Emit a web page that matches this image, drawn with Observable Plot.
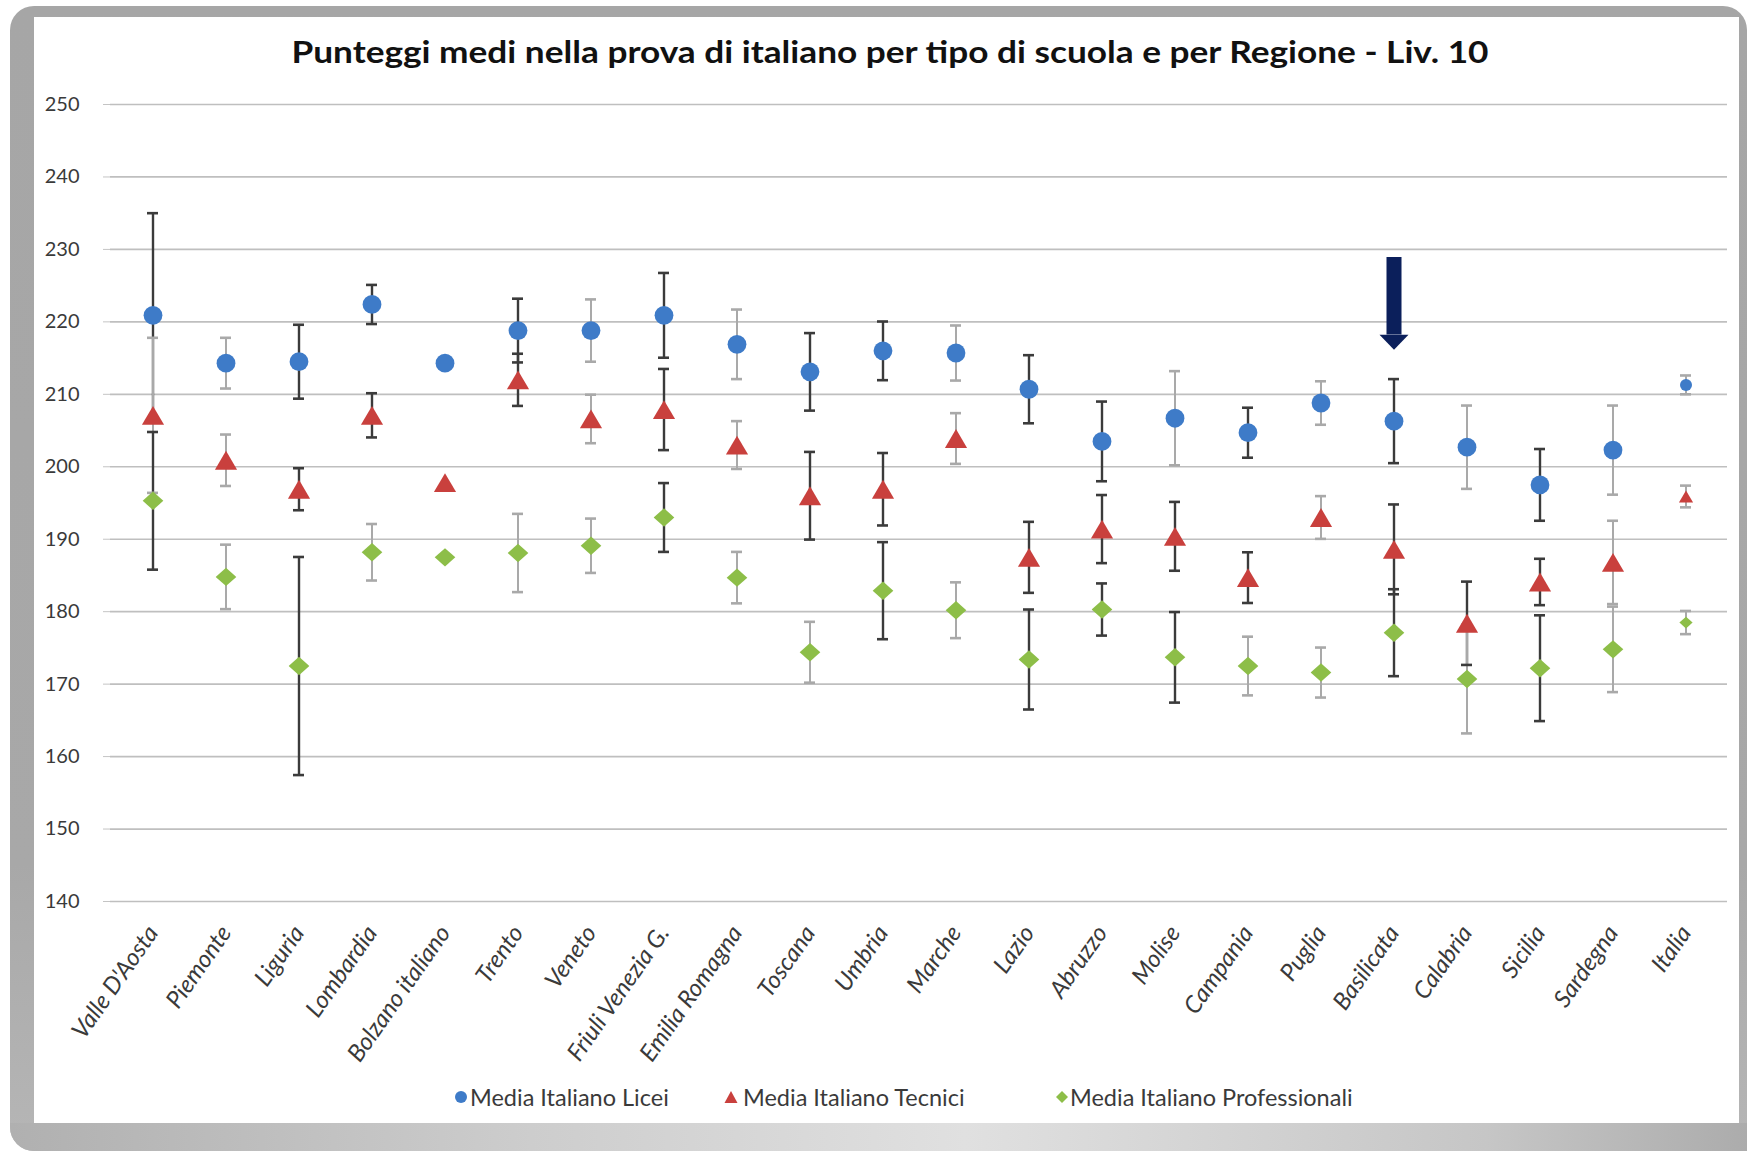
<!DOCTYPE html>
<html>
<head>
<meta charset="utf-8">
<script src="https://cdn.jsdelivr.net/npm/d3@7"></script>
<script src="https://cdn.jsdelivr.net/npm/@observablehq/plot@0.6"></script>
<style>
  html, body { margin: 0; padding: 0; width: 1747px; height: 1151px; overflow: hidden; background: #fff; font-family: Lato, "Open Sans", sans-serif; }
  #frame { position: absolute; left: 10px; top: 6px; width: 1737px; height: 1145px; border-radius: 24px 24px 0 24px; overflow: hidden;
           background: linear-gradient(to bottom, #a6a6a6 0%, #a8a8a8 75%, #b6b6b6 100%); }
  #bottomstrip { position: absolute; left: 0; right: 0; bottom: 0; height: 28px;
           background: linear-gradient(to right, #b0b0b0 0%, #cdcdcd 30%, #e0e0e0 55%, #c6c6c6 85%, #acacac 100%); }
  #inner { position: absolute; left: 34px; top: 17px; width: 1705px; height: 1106px; background: #fff; }
  #chart { position: absolute; left: 0; top: 0; }
  #title { position: absolute; left: 0; top: 0; }
  .leg { position: absolute; top: 1081px; height: 32px; font-size: 23.5px; color: #3a3a3a; white-space: nowrap; line-height: 32px; }
  .legm { position: absolute; top: 1090px; }
</style>
</head>
<body>
<div id="frame"><div id="bottomstrip"></div></div>
<div id="inner"></div>
<div id="chart"></div>
<svg id="title" width="1747" height="100">
  <text x="890" y="63" text-anchor="middle" font-family="Lato, sans-serif" font-weight="700" font-size="30" fill="#111" textLength="1197" lengthAdjust="spacingAndGlyphs">Punteggi medi nella prova di italiano per tipo di scuola e per Regione - Liv. 10</text>
</svg>
<div id="legend"></div>
<script>
// ---- data ----
const regions = ["Valle D'Aosta", "Piemonte", "Liguria", "Lombardia", "Bolzano italiano", "Trento", "Veneto",
  "Friuli Venezia G.", "Emilia Romagna", "Toscana", "Umbria", "Marche", "Lazio", "Abruzzo", "Molise",
  "Campania", "Puglia", "Basilicata", "Calabria", "Sicilia", "Sardegna", "Italia"];

const licei      = [220.9, 214.3, 214.5, 222.4, 214.3, 218.8, 218.8, 220.9, 216.9, 213.1, 216.0, 215.7, 210.7, 203.5, 206.7, 204.7, 208.8, 206.3, 202.7, 197.5, 202.3, 211.3];
const liceiErr   = [14.1, 3.5, 5.1, 2.7, null, 4.4, 4.3, 5.85, 4.8, 5.35, 4.05, 3.8, 4.7, 5.5, 6.5, 3.45, 3.0, 5.8, 5.75, 4.95, 6.15, 1.3];
const liceiDark  = [1, 0, 1, 1, 0, 1, 0, 1, 0, 1, 1, 0, 1, 1, 0, 1, 0, 1, 0, 1, 0, 0];

const tecnici     = [207.1, 200.9, 196.9, 207.1, 197.8, 212.0, 206.6, 207.9, 203.0, 196.0, 196.9, 203.9, 187.5, 191.4, 190.4, 184.7, 193.0, 188.6, 178.4, 184.1, 186.8, 195.9];
const tecniciErr  = [10.7, 3.55, 2.9, 3.05, null, 3.6, 3.35, 5.6, 3.3, 6.05, 5.0, 3.5, 4.9, 4.7, 4.75, 3.5, 2.95, 6.2, 5.75, 3.2, 5.75, 1.5];
const tecniciDark = [0, 0, 1, 1, 0, 1, 0, 1, 0, 1, 1, 0, 1, 1, 1, 1, 0, 1, 1, 1, 0, 0];

const professionali     = [195.3, 184.8, 172.5, 188.2, 187.5, 188.1, 189.1, 193.0, 184.7, 174.4, 182.9, 180.2, 173.4, 180.3, 173.7, 172.5, 171.6, 177.1, 170.7, 172.2, 174.8, 178.5];
const professionaliErr  = [9.5, 4.45, 15.05, 3.9, null, 5.4, 3.75, 4.75, 3.55, 4.2, 6.7, 3.85, 6.9, 3.6, 6.25, 4.05, 3.45, 6.0, 7.5, 7.3, 5.9, 1.6];
const professionaliDark = [1, 0, 1, 0, 0, 0, 0, 1, 0, 0, 1, 0, 1, 1, 1, 0, 0, 1, 0, 1, 0, 0];

const seriesNames  = ["Media Italiano Licei", "Media Italiano Tecnici", "Media Italiano Professionali"];
const seriesColors = ["#3E7BC8", "#C9403D", "#8DBE48"];
const yTicks = [140, 150, 160, 170, 180, 190, 200, 210, 220, 230, 240, 250];

// annotation arrow (pointing at Basilicata)
const arrowRegion = "Basilicata";
const arrowTop = 228.9, arrowShaftEnd = 218.2, arrowHeadAt = 217.2;

// ---- build table ----
const seriesData = [[licei, liceiErr, liceiDark], [tecnici, tecniciErr, tecniciDark], [professionali, professionaliErr, professionaliDark]];
const rows = [];
seriesData.forEach(([vals, errs, dark], s) => regions.forEach((r, i) =>
  rows.push({region: r, series: s, value: vals[i], err: errs[i], dark: dark[i]})));
const bars = rows.filter(d => d.err != null);

// ---- symbols ----
const triSym = {draw(ctx, size) { const r = Math.sqrt(size / Math.PI); const w = 1.18 * r, h = r;
  ctx.moveTo(0, -h); ctx.lineTo(w, h); ctx.lineTo(-w, h); ctx.closePath(); }};
const diaSym = {draw(ctx, size) { const r = Math.sqrt(size / Math.PI); const w = 1.1 * r, h = 0.98 * r;
  ctx.moveTo(0, -h); ctx.lineTo(w, 0); ctx.lineTo(0, h); ctx.lineTo(-w, 0); ctx.closePath(); }};
const headSym = {draw(ctx, size) { ctx.moveTo(-14.5, -7.5); ctx.lineTo(14.5, -7.5); ctx.lineTo(0, 7.5); ctx.closePath(); }};
const symbols = ["circle", triSym, diaSym];
const barColor = d => d.dark ? "#3b3b3b" : "#a9a9a9";
const sizeOf = d => d.region === "Italia" ? 6 : 9.4;

const chart = Plot.plot({
  width: 1747, height: 1151,
  marginLeft: 110, marginRight: 20, marginTop: 104, marginBottom: 250,
  style: {background: "transparent", fontFamily: "Lato, sans-serif", fontSize: "20px", color: "#3a3a3a", overflow: "visible"},
  x: {type: "band", domain: regions, padding: 0, label: null},
  y: {domain: [140, 250], label: null},
  r: {type: "identity"},
  color: {type: "identity"},
  marks: [
    Plot.ruleY(yTicks, {stroke: "#bfbfbf", strokeWidth: 1.7}),
    Plot.axisY({ticks: yTicks, tickSize: 7, tickPadding: 24, stroke: "#c4c4c4", fill: "#3a3a3a", line: true, label: null, fontSize: 20}),
    Plot.axisX({tickSize: 0, tickPadding: 27, tickRotate: -55, fill: "#3a3a3a", fontSize: 24, fontStyle: "italic", label: null}),
    Plot.ruleX(bars, {x: "region", y1: d => d.value - d.err, y2: d => d.value + d.err, stroke: barColor, strokeWidth: d => d.dark ? 2.4 : 2}),
    Plot.tickY(bars, {x: "region", y: d => d.value - d.err, stroke: barColor, strokeWidth: 2.6, inset: 31}),
    Plot.tickY(bars, {x: "region", y: d => d.value + d.err, stroke: barColor, strokeWidth: 2.6, inset: 31}),
    Plot.ruleX([arrowRegion], {x: d => d, y1: arrowTop, y2: arrowShaftEnd, stroke: "#0B1F5B", strokeWidth: 15}),
    Plot.dot([arrowRegion], {x: d => d, y: arrowHeadAt, symbol: headSym, fill: "#0B1F5B", r: 10}),
    ...[0, 1, 2].map(s => Plot.dot(rows.filter(d => d.series === s), {
      x: "region", y: "value", r: sizeOf, symbol: symbols[s], fill: seriesColors[s], stroke: "none"
    }))
  ]
});
document.getElementById("chart").appendChild(chart);

// ---- legend ----
const legendPos = [{m: 461, t: 470}, {m: 731, t: 743}, {m: 1062, t: 1070}];
const legendShapes = [
  c => `<circle cx="7" cy="7" r="6" fill="${c}"/>`,
  c => `<path d="M7,1 L13.5,13 L0.5,13 Z" fill="${c}"/>`,
  c => `<path d="M7,1 L13,7 L7,13 L1,7 Z" fill="${c}"/>`
];
const leg = document.getElementById("legend");
seriesNames.forEach((name, i) => {
  const m = document.createElementNS("http://www.w3.org/2000/svg", "svg");
  m.setAttribute("width", 14); m.setAttribute("height", 14);
  m.setAttribute("class", "legm");
  m.style.left = (legendPos[i].m - 7) + "px";
  m.innerHTML = legendShapes[i](seriesColors[i]);
  leg.appendChild(m);
  const t = document.createElement("div");
  t.className = "leg"; t.style.left = legendPos[i].t + "px"; t.textContent = name;
  leg.appendChild(t);
});
</script>
</body>
</html>
